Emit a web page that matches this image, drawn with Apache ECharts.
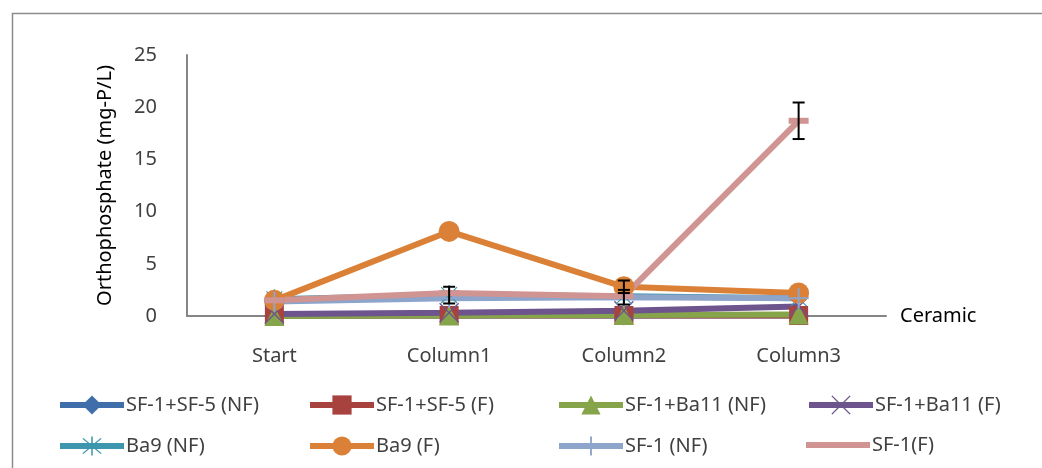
<!DOCTYPE html>
<html>
<head>
<meta charset="utf-8">
<script src="https://cdn.jsdelivr.net/npm/echarts@6/dist/echarts.min.js"></script>
<style>html,body{margin:0;padding:0;background:#fff;}#c{width:1042px;height:468px;}</style>
</head>
<body>
<div id="c"></div>
<script>
const categories = ['Start', 'Column1', 'Column2', 'Column3'];
const yTicks = [0, 5, 10, 15, 20, 25];
const seriesNames = ['SF-1+SF-5 (NF)', 'SF-1+SF-5 (F)', 'SF-1+Ba11 (NF)', 'SF-1+Ba11 (F)', 'Ba9 (NF)', 'Ba9 (F)', 'SF-1 (NF)', 'SF-1(F)'];
const sf1sf5NF = [0.05, 0.05, 0.05, 0.05];
const sf1sf5F = [0.05, 0.05, 0.05, 0.05];
const sf1ba11NF = [0.0, 0.05, 0.1, 0.15];
const sf1ba11F = [0.2, 0.3, 0.5, 0.9];
const ba9NF = [1.6, 2.0, 1.9, 1.7];
const ba9F = [1.5, 8.1, 2.8, 2.2];
const sf1NF = [1.4, 1.7, 1.8, 1.7];
const sf1F = [1.5, 2.2, 1.9, 18.7];
// error bars: [category index, low, high]
const errorBars = [[1, 1.2, 2.8], [2, 2.2, 3.4], [2, 1.1, 2.5], [3, 16.95, 20.45]];

const colors = ['#3F6EAA', '#A8423F', '#86A44A', '#6E548D', '#3D96AE', '#DA8137', '#8EA5CB', '#D09493'];
const symPlus = 'path://M9,0 L11,0 L11,9 L20,9 L20,11 L11,11 L11,20 L9,20 L9,11 L0,11 L0,9 L9,9 Z';
const symX = 'path://M1,0 L10,9 L19,0 L20,1 L11,10 L20,19 L19,20 L10,11 L1,20 L0,19 L9,10 L0,1 Z';
const symStar = 'path://M1,0 L10,9 L19,0 L20,1 L11,10 L20,19 L19,20 L10,11 L1,20 L0,19 L9,10 L0,1 Z M9.2,-2 L10.8,-2 L10.8,22 L9.2,22 Z';
const symDash = 'path://M0,0 L20,0 L20,6 L0,6 Z';
const symbols = ['diamond', 'rect', 'triangle', symX, symStar, 'circle', symPlus, symDash];
const symbolSizes = [20, 19, 20, 20, 20, 21, 20, 20];
const dataSets = [sf1sf5NF, sf1sf5F, sf1ba11NF, sf1ba11F, ba9NF, ba9F, sf1NF, sf1F];

const FONT = 'Noto Sans';
const series = dataSets.map((d, i) => ({
  name: seriesNames[i],
  type: 'line',
  data: d,
  symbol: symbols[i],
  symbolSize: symbolSizes[i],
  symbolKeepAspect: true,
  showAllSymbol: true,
  color: colors[i],
  lineStyle: { width: 6, color: colors[i] },
  itemStyle: { color: colors[i], opacity: 1 },
  emphasis: { disabled: true },
  animation: false
}));
series.push({
  type: 'custom',
  name: 'err',
  z: 10,
  animation: false,
  data: errorBars,
  renderItem: function (params, api) {
    const x = api.value(0);
    const lo = api.coord([x, api.value(1)]);
    const hi = api.coord([x, api.value(2)]);
    const w = 6;
    const st = { stroke: '#000', lineWidth: 2 };
    return {
      type: 'group',
      children: [
        { type: 'line', shape: { x1: lo[0], y1: lo[1], x2: hi[0], y2: hi[1] }, style: st },
        { type: 'line', shape: { x1: lo[0] - w, y1: lo[1], x2: lo[0] + w, y2: lo[1] }, style: st },
        { type: 'line', shape: { x1: hi[0] - w, y1: hi[1], x2: hi[0] + w, y2: hi[1] }, style: st }
      ]
    };
  }
});

const legendLefts = [57, 307, 556, 806];
const legendTops = [395, 436];
const legends = seriesNames.map((n, i) => {
  const dash = i === 7;
  return {
    data: [dash ? { name: n, icon: 'rect' } : n],
    left: legendLefts[i % 4],
    top: legendTops[Math.floor(i / 4)] - (dash ? 1 : 0),
    padding: 0,
    itemWidth: 64,
    itemHeight: dash ? 6 : 24,
    selectedMode: false,
    lineStyle: { width: 6 },
    textStyle: { fontFamily: FONT, fontSize: 20, color: '#404040', padding: [0, 0, 0, -3] }
  };
});

const chart = echarts.init(document.getElementById('c'));
chart.setOption({
  backgroundColor: '#fff',
  animation: false,
  graphic: [{
    type: 'rect', left: 10, top: 11,
    shape: { width: 1040, height: 470 },
    style: { fill: 'none', stroke: '#8c8c8c', lineWidth: 1.5 },
    silent: true
  }],
  legend: legends,
  grid: { left: 187, right: 156, top: 55, bottom: 152, containLabel: false },
  xAxis: {
    type: 'category',
    data: categories,
    boundaryGap: true,
    name: 'Ceramic',
    nameLocation: 'end',
    nameGap: 14,
    nameTextStyle: { fontFamily: FONT, fontSize: 20, color: '#000', verticalAlign: 'middle' },
    axisLine: { lineStyle: { color: '#868686', width: 2 } },
    axisTick: { show: false },
    axisLabel: { fontFamily: FONT, fontSize: 20, color: '#404040', margin: 30 },
    splitLine: { show: false }
  },
  yAxis: {
    type: 'value',
    min: yTicks[0],
    max: yTicks[yTicks.length - 1],
    interval: 5,
    name: 'Orthophosphate (mg-P/L)',
    nameLocation: 'middle',
    nameGap: 72,
    nameTextStyle: { fontFamily: FONT, fontSize: 20, color: '#000' },
    axisLine: { show: true, lineStyle: { color: '#868686', width: 2 } },
    axisTick: { show: false },
    axisLabel: { fontFamily: FONT, fontSize: 20, color: '#404040', margin: 30 },
    splitLine: { show: false }
  },
  series: series
});
</script>
</body>
</html>
